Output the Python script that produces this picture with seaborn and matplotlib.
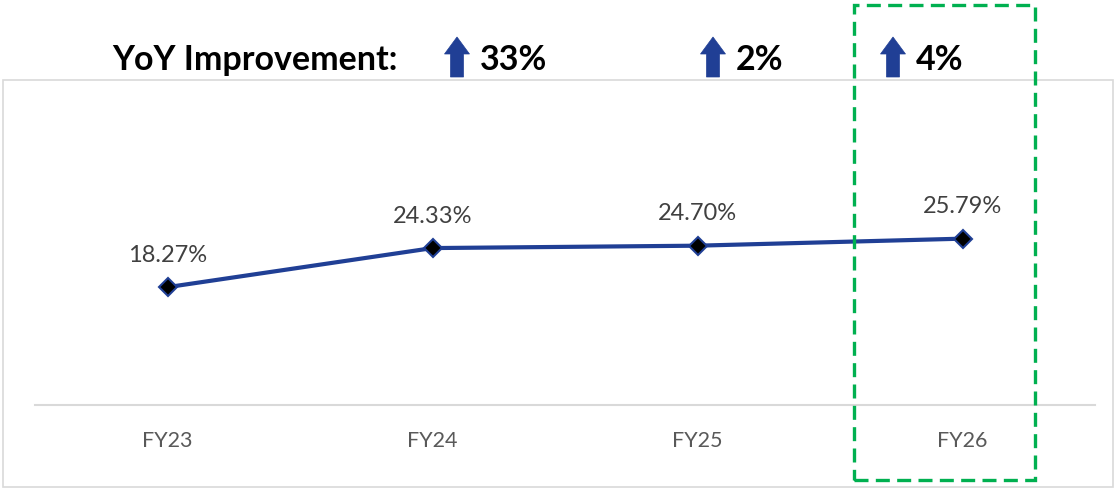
import matplotlib
matplotlib.use("Agg")
import matplotlib.pyplot as plt
import seaborn as sns
import pandas as pd
from matplotlib.patches import Rectangle, Polygon

# datos del grafico
categorias = ["FY23", "FY24", "FY25", "FY26"]
valores = [18.27, 24.33, 24.70, 25.79]
mejoras_yoy = [33, 2, 4]

# posiciones (px) de las flechas de la cabecera
flechas_x = [457, 713, 893]

sns.set_theme(style="white")
plt.rcParams['font.family'] = ['Lato', 'DejaVu Sans']

W, H = 1115, 490
fig = plt.figure(figsize=(W / 100, H / 100), dpi=100)


def px(x, y):
    # pixeles (origen arriba-izquierda) -> fraccion de figura
    return (x / W, 1 - y / H)


ax = fig.add_axes([35 / W, 85 / H, 1060 / W, 322.5 / H])

df = pd.DataFrame({"FY": categorias, "valor": valores})
sns.lineplot(data=df, x="FY", y="valor", ax=ax, color="#203F95", linewidth=3,
             marker="D", markersize=9.5, markerfacecolor="black",
             markeredgecolor="#203F95", markeredgewidth=1.5)

for i, v in enumerate(valores):
    ax.annotate(f"{v:.2f}%", (i, v), xytext=(0, 23), textcoords="offset points",
                ha="center", va="center", fontsize=17, color="#404040")

ax.set_xlim(-0.5, len(categorias) - 0.5)
ax.set_ylim(0, 50)
ax.set_xlabel("")
ax.set_ylabel("")
ax.set_yticks([])
for lado in ["top", "left", "right"]:
    ax.spines[lado].set_visible(False)
ax.spines["bottom"].set_color("#D9D9D9")
ax.spines["bottom"].set_linewidth(1.5)
ax.tick_params(axis="x", length=0, pad=19, labelsize=15.5, labelcolor="#595959")
ax.patch.set_alpha(0)

# borde del area del grafico
x0, y0 = px(3, 487)
x1, y1 = px(1113, 80)
fig.patches.append(Rectangle((x0, y0), x1 - x0, y1 - y0, transform=fig.transFigure,
                             fill=False, edgecolor="#D9D9D9", linewidth=1.2, zorder=0))

# cabecera: mejora interanual
tx, ty = px(112, 70)
fig.text(tx, ty, "YoY Improvement:", fontsize=24.5, fontweight="bold",
         color="black", ha="left", va="baseline")
for xc, m in zip(flechas_x, mejoras_yoy):
    forma = [(xc - 6.5, 77), (xc - 6.5, 54), (xc - 12.5, 54), (xc, 37),
             (xc + 12.5, 54), (xc + 6.5, 54), (xc + 6.5, 77)]
    fig.patches.append(Polygon([px(a, b) for a, b in forma], closed=True,
                               transform=fig.transFigure, facecolor="#203F95",
                               edgecolor="#203F95", linewidth=0.5))
    tx, ty = px(xc + 23, 70)
    fig.text(tx, ty, f"{m}%", fontsize=24.5, fontweight="bold", color="black",
             ha="left", va="baseline")

# recuadro verde discontinuo sobre FY26
x0, y0 = px(854, 480)
x1, y1 = px(1035, 5)
fig.patches.append(Rectangle((x0, y0), x1 - x0, y1 - y0, transform=fig.transFigure,
                             fill=False, edgecolor="#00B050", linewidth=2.4,
                             linestyle=(0, (4.2, 2.2)), zorder=5))

fig.savefig("out.png", dpi=100)
